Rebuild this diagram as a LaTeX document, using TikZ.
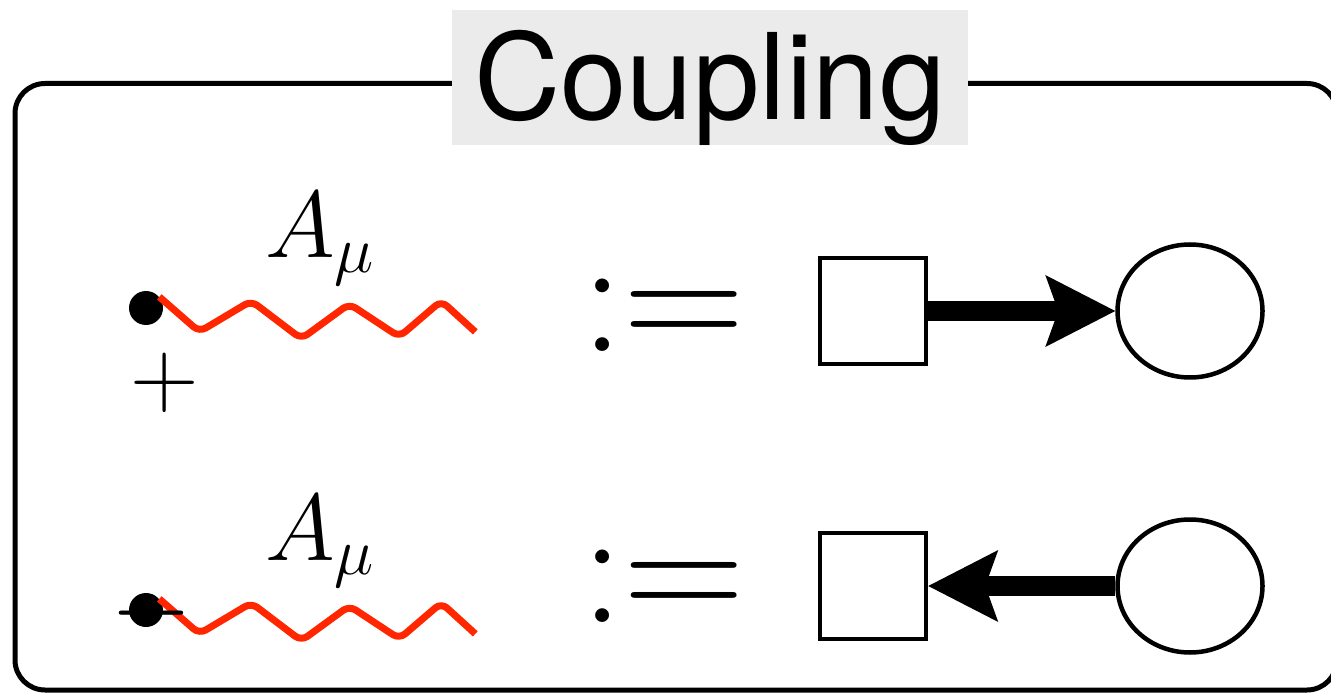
\RequirePackage{fix-cm}
\documentclass[tikz,border=0pt]{standalone}
\usepackage{fontspec}
\newfontfamily\headfont{TeX Gyre Heros}
\usetikzlibrary{arrows.meta, shapes.geometric, positioning}
\definecolor{PhotonRed}{RGB}{255,38,0}
\definecolor{TitleGray}{RGB}{235,235,235}

\begin{document}
\begin{tikzpicture}[
    frame/.style={draw,line width=0.1cm,rounded corners=0.6cm},
    title/.style={fill=TitleGray,font=\headfont\fontsize{68}{80}\selectfont,
               minimum width=10.32cm,inner xsep=0pt,inner ysep=0pt,
               text height=2.2cm,text depth=0.5cm,anchor=base},
    vtx/.style={circle,fill=black,inner sep=0pt,minimum size=0.68cm},
    photon/.style={draw=PhotonRed,line width=0.14cm,rounded corners=0.15cm,
               line join=round},
    lbl/.style={font=\fontsize{54}{60}\selectfont,inner sep=0pt},
    defs/.style={font=\fontsize{96}{100}\selectfont,inner sep=0pt,anchor=base},
    sq/.style={draw,line width=0.09cm,minimum size=2.12cm,inner sep=0pt},
    ov/.style={ellipse,draw,line width=0.09cm,minimum width=2.9cm,
               minimum height=2.66cm,inner sep=0pt},
    flow/.style={-{Stealth[length=1.4cm,width=1.44cm,inset=0.26cm,line width=0pt]},
               line width=0.4cm}
  ]
    \useasboundingbox (0,0) rectangle (26.62,13.88);
    \draw[frame] (0.3,0.08) rectangle (26.74,12.21);
    \node[title] (ttl) at (14.2,11.48) {Coupling};

    % upper row
    \node[lbl] (pl) at (3.3,6.22) {$+$};
    \node[vtx] (vp) at (2.92,7.72) {};
    \draw[photon] (vp.40) -- ++(0.8,-0.7) -- ++(1.04,0.62) -- ++(1.0,-0.76)
        -- ++(0.96,0.7) -- ++(1.0,-0.66) -- ++(0.84,0.72) -- ++(0.68,-0.62);
    \node[lbl,anchor=base] (a1) at (6.4,8.72) {$A_\mu$};
    \node[defs] (d1) at (13.27,6.84) {$:=$};
    \node[sq] (sq1) at (17.46,7.66) {};
    \node[ov,right=3.74cm of sq1] (ov1) {};
    \draw[flow] (sq1) -- (ov1);

    % lower row
    \node[vtx] (vm) at (2.92,1.68) {};
    \draw[photon] (vm.40) -- ++(0.8,-0.7) -- ++(1.04,0.62) -- ++(1.0,-0.76)
        -- ++(0.96,0.7) -- ++(1.0,-0.66) -- ++(0.84,0.72) -- ++(0.68,-0.62);
    \node[lbl,font=\fontsize{60}{66}\selectfont] (mi) at (3.04,1.62) {$-$};
    \node[lbl,anchor=base] (a2) at (6.4,2.68) {$A_\mu$};
    \node[defs] (d2) at (13.27,1.43) {$:=$};
    \node[sq] (sq2) at (17.46,2.16) {};
    \node[ov,right=3.74cm of sq2] (ov2) {};
    \draw[flow] (ov2) -- (sq2);
\end{tikzpicture}
\end{document}
